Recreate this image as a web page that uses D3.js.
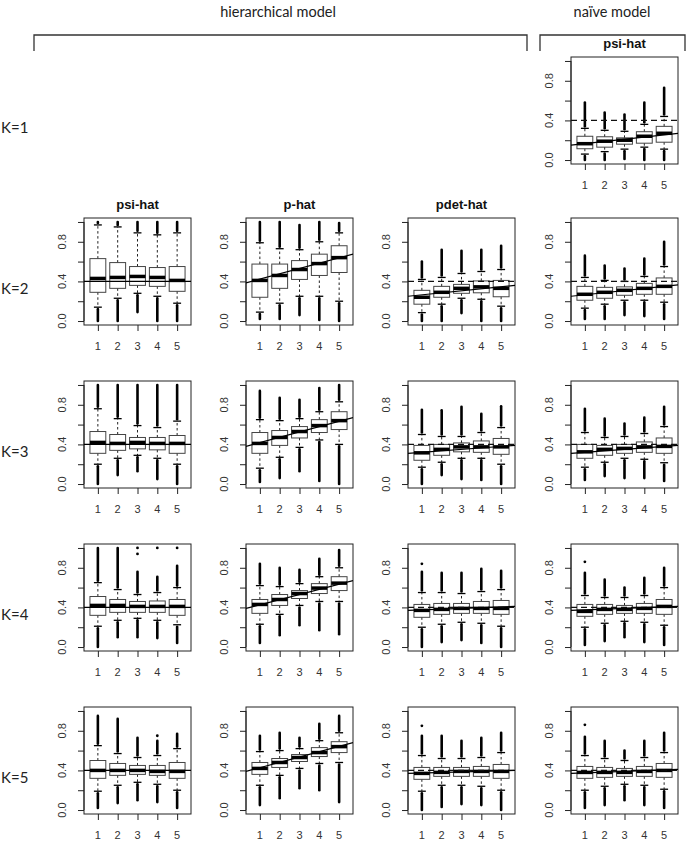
<!DOCTYPE html>
<html><head><meta charset="utf-8">
<script src="https://cdn.jsdelivr.net/npm/d3@7"></script>
<style>body{margin:0;background:#fff} svg{display:block}</style>
</head><body><svg id="c" width="689" height="842"></svg>
<script>
// ---------- data ----------
const groups = [1, 2, 3, 4, 5];
const rowLabels = ["K=1", "K=2", "K=3", "K=4", "K=5"];
const columnTitles = ["psi-hat", "p-hat", "pdet-hat", "psi-hat"];
const modelLabels = ["hierarchical model", "naïve model"];
const yTicks = [0, 0.2, 0.4, 0.6, 0.8, 1.0];
const yTickLabels = [0, 0.4, 0.8];

// panel order: K1 naive; then for K=2..5: psi, p, pdet, naive
const panelRow = [0, 1,1,1,1, 2,2,2,2, 3,3,3,3, 4,4,4,4];
const panelCol = [3, 0,1,2,3, 0,1,2,3, 0,1,2,3, 0,1,2,3];

const lowOut = [
  [0.0,0.0,0.01,0.0,0.0],
  [0.0,0.0,0.09,0.0,0.0],[0.02,0.02,0.06,0.01,0.0],[0.0,0.0,0.08,0.0,0.0],[0.02,0.02,0.06,0.05,0.02],
  [0.0,0.09,0.13,0.05,0.0],[0.02,0.06,0.13,0.03,0.0],[0.0,0.09,0.05,0.04,0.0],[0.04,0.08,0.06,0.06,0.03],
  [0.0,0.10,0.10,0.09,0.04],[0.04,0.12,0.22,0.17,0.13],[0.0,0.05,0.07,0.04,0.0],[0.02,0.06,0.10,0.05,0.02],
  [0.02,0.07,0.10,0.08,0.02],[0.05,0.12,0.22,0.20,0.08],[0.0,0.03,0.06,0.05,0.0],[0.02,0.05,0.10,0.05,0.02]
];
const lowWhisker = [
  [0.06,0.085,0.11,0.13,0.11],
  [0.14,0.23,0.28,0.25,0.18],[0.09,0.18,0.25,0.25,0.20],[0.085,0.17,0.23,0.22,0.15],[0.13,0.17,0.21,0.21,0.19],
  [0.20,0.26,0.29,0.26,0.20],[0.16,0.27,0.37,0.445,0.40],[0.17,0.22,0.26,0.26,0.20],[0.17,0.22,0.26,0.25,0.215],
  [0.21,0.27,0.29,0.27,0.225],[0.23,0.33,0.42,0.46,0.46],[0.20,0.23,0.25,0.24,0.21],[0.20,0.24,0.26,0.25,0.22],
  [0.19,0.25,0.28,0.26,0.20],[0.25,0.35,0.42,0.47,0.48],[0.19,0.25,0.25,0.24,0.20],[0.20,0.24,0.26,0.25,0.21]
];
const q1 = [
  [0.114,0.13,0.16,0.17,0.18],
  [0.29,0.33,0.36,0.35,0.30],[0.24,0.33,0.42,0.46,0.49],[0.17,0.24,0.28,0.285,0.245],[0.21,0.23,0.26,0.27,0.27],
  [0.31,0.34,0.355,0.345,0.31],[0.31,0.39,0.465,0.52,0.55],[0.24,0.29,0.325,0.32,0.30],[0.26,0.29,0.31,0.32,0.31],
  [0.32,0.35,0.35,0.35,0.32],[0.34,0.42,0.49,0.54,0.57],[0.30,0.33,0.34,0.34,0.33],[0.31,0.33,0.34,0.34,0.33],
  [0.32,0.35,0.36,0.35,0.32],[0.36,0.43,0.49,0.54,0.58],[0.31,0.34,0.34,0.34,0.32],[0.32,0.33,0.34,0.34,0.33]
];
const median = [
  [0.165,0.19,0.20,0.24,0.27],
  [0.43,0.44,0.45,0.44,0.41],[0.41,0.46,0.52,0.58,0.64],[0.24,0.29,0.33,0.345,0.33],[0.27,0.29,0.31,0.33,0.35],
  [0.42,0.41,0.42,0.41,0.41],[0.41,0.47,0.53,0.59,0.64],[0.315,0.35,0.375,0.375,0.375],[0.325,0.35,0.36,0.375,0.38],
  [0.42,0.42,0.41,0.41,0.41],[0.43,0.48,0.54,0.595,0.645],[0.37,0.38,0.39,0.39,0.39],[0.36,0.38,0.38,0.39,0.41],
  [0.40,0.40,0.40,0.39,0.39],[0.42,0.48,0.53,0.58,0.64],[0.37,0.38,0.39,0.39,0.39],[0.38,0.38,0.38,0.39,0.40]
];
const q3 = [
  [0.24,0.235,0.224,0.286,0.34],
  [0.63,0.59,0.55,0.54,0.55],[0.575,0.575,0.61,0.675,0.76],[0.31,0.35,0.37,0.405,0.41],[0.35,0.34,0.345,0.38,0.435],
  [0.53,0.50,0.47,0.47,0.49],[0.52,0.54,0.58,0.65,0.73],[0.39,0.40,0.415,0.435,0.46],[0.40,0.39,0.40,0.425,0.465],
  [0.51,0.48,0.46,0.465,0.48],[0.48,0.53,0.57,0.64,0.71],[0.43,0.44,0.44,0.46,0.47],[0.43,0.43,0.42,0.44,0.48],
  [0.50,0.47,0.45,0.45,0.48],[0.48,0.52,0.56,0.63,0.69],[0.43,0.43,0.43,0.44,0.46],[0.44,0.43,0.42,0.44,0.47]
];
const highWhisker = [
  [0.32,0.30,0.29,0.36,0.44],
  [0.97,0.95,0.89,0.87,0.89],[0.79,0.73,0.72,0.80,0.89],[0.42,0.44,0.48,0.50,0.52],[0.44,0.41,0.40,0.45,0.55],
  [0.76,0.66,0.59,0.57,0.635],[0.65,0.64,0.66,0.73,0.83],[0.50,0.48,0.48,0.52,0.57],[0.52,0.47,0.48,0.51,0.58],
  [0.65,0.58,0.53,0.55,0.60],[0.62,0.61,0.64,0.71,0.80],[0.55,0.55,0.54,0.56,0.58],[0.52,0.50,0.50,0.52,0.60],
  [0.65,0.57,0.53,0.55,0.62],[0.59,0.60,0.62,0.70,0.78],[0.55,0.52,0.52,0.53,0.58],[0.55,0.52,0.50,0.53,0.58]
];
const highOut = [
  [0.58,0.48,0.46,0.58,0.73],
  [1.0,1.0,1.0,1.0,1.0],[1.0,1.0,0.97,1.0,0.99],[0.60,0.72,0.71,0.72,0.76],[0.66,0.56,0.53,0.63,0.80],
  [1.0,1.0,1.0,1.0,1.0],[0.94,0.87,0.85,0.97,1.0],[0.75,0.745,0.78,0.71,0.785],[0.76,0.66,0.61,0.67,0.78],
  [1.0,1.0,0.76,0.71,0.82],[0.84,0.80,0.78,0.89,0.98],[0.76,0.75,0.75,0.79,0.77],[0.75,0.68,0.60,0.70,0.80],
  [0.95,0.92,0.73,0.70,0.77],[0.75,0.78,0.73,0.87,0.95],[0.75,0.75,0.70,0.73,0.78],[0.74,0.70,0.60,0.70,0.78]
];
// isolated outliers: [panel, group, value]
const isolatedPoints = [
  [9,3,0.94],[9,3,1.0],[9,4,1.0],[9,5,1.0],[11,1,0.84],[12,1,0.86],[15,1,0.85],[16,1,0.86],[13,4,0.75]
];
// solid reference line value at left and right edge of each panel
const trendLeft  = [0.15, 0.4,0.385,0.25,0.25, 0.4,0.38,0.31,0.31, 0.4,0.39,0.37,0.37, 0.4,0.39,0.37,0.37];
const trendRight = [0.27, 0.4,0.675,0.36,0.365, 0.4,0.67,0.39,0.39, 0.4,0.67,0.41,0.41, 0.4,0.68,0.40,0.41];
const dashedRef  = [0.4, null,null,0.4,0.4, null,null,0.4,0.4, null,null,0.4,0.4, null,null,0.4,0.4];

// ---------- layout ----------
const colLeft = [84, 246, 408, 571];
const rowTop = [57, 218, 381, 544, 707];
const PW = 107, PH = 107;
const xDomain = [0.3, 5.7];
const yDomain = [-0.04, 1.04];

const svg = d3.select("#c");
const sansR = "'Liberation Sans', Arial, sans-serif";
const labelFont = "Lato, 'Open Sans', sans-serif";

// top model labels + brackets
svg.append("text").attr("x", 278).attr("y", 17).attr("text-anchor","middle")
  .attr("font-family", labelFont).attr("font-size", 14.5).attr("fill","#222").text(modelLabels[0]);
svg.append("text").attr("x", 612).attr("y", 17).attr("text-anchor","middle")
  .attr("font-family", labelFont).attr("font-size", 14.5).attr("fill","#222").text(modelLabels[1]);
svg.append("path").attr("d","M34,51V35H527V51").attr("fill","none").attr("stroke","#333").attr("stroke-width",1.3);
svg.append("path").attr("d","M540,51V35H685V51").attr("fill","none").attr("stroke","#333").attr("stroke-width",1.3);

// row labels
rowLabels.forEach((t,i)=>{
  svg.append("text").attr("x", 1).attr("y", rowTop[i] + 76).attr("font-family", labelFont)
    .attr("font-size", 15).attr("fill","#222").text(t);
});

const titled = new Set();
panelRow.forEach((r, p) => {
  const c = panelCol[p];
  const L = colLeft[c], T = rowTop[r];
  const x = d3.scaleLinear().domain(xDomain).range([L, L + PW]);
  const y = d3.scaleLinear().domain(yDomain).range([T + PH, T]);
  const g = svg.append("g");
  const clipId = "clip" + p;
  g.append("clipPath").attr("id", clipId).append("rect").attr("x", L).attr("y", T).attr("width", PW).attr("height", PH);

  // title
  if (!titled.has(c)) {
    titled.add(c);
    g.append("text").attr("x", L + PW/2).attr("y", T - 9).attr("text-anchor","middle")
      .attr("font-family", sansR).attr("font-weight","bold").attr("font-size", 13).attr("fill","#111").text(columnTitles[c]);
  }

  // y axis
  const ya = g.append("g").attr("transform", `translate(${L},0)`)
    .call(d3.axisLeft(y).tickValues(yTicks).tickSize(6).tickSizeOuter(0).tickFormat(""));
  ya.select(".domain").remove();
  ya.selectAll(".tick line").attr("stroke","#222");
  g.append("line").attr("x1", L).attr("x2", L).attr("y1", y(0)).attr("y2", y(1)).attr("stroke","#222");
  yTickLabels.forEach(v=>{
    g.append("text").attr("transform", `translate(${L-18},${y(v)}) rotate(-90)`).attr("text-anchor","middle")
      .attr("font-family", sansR).attr("font-size", 11).attr("fill","#333").text(v.toFixed(1));
  });

  // x axis
  const xa = g.append("g").attr("transform", `translate(0,${T+PH})`)
    .call(d3.axisBottom(x).tickValues(groups).tickSize(6).tickSizeOuter(0).tickFormat(""));
  xa.select(".domain").remove();
  xa.selectAll(".tick line").attr("stroke","#222");
  groups.forEach(v=>{
    g.append("text").attr("x", x(v)).attr("y", T + PH + 25).attr("text-anchor","middle")
      .attr("font-family", sansR).attr("font-size", 11).attr("fill","#333").text(v);
  });

  // frame
  g.append("rect").attr("x", L).attr("y", T).attr("width", PW).attr("height", PH)
    .attr("fill","none").attr("stroke","#222").attr("stroke-width",1);

  // boxes
  groups.forEach((gv, i) => {
    const cx = x(gv);
    const hw = x(gv + 0.4) - cx, cap = x(gv + 0.2) - cx;
    // outlier stacks
    g.append("line").attr("x1", cx).attr("x2", cx).attr("y1", y(highWhisker[p][i]) - 2).attr("y2", y(highOut[p][i]))
      .attr("stroke","#000").attr("stroke-width", 2.6).attr("stroke-linecap","round");
    g.append("line").attr("x1", cx).attr("x2", cx).attr("y1", y(lowWhisker[p][i]) + 2).attr("y2", y(lowOut[p][i]))
      .attr("stroke","#000").attr("stroke-width", 2.6).attr("stroke-linecap","round");
    // whiskers
    g.append("line").attr("x1", cx).attr("x2", cx).attr("y1", y(q3[p][i])).attr("y2", y(highWhisker[p][i]))
      .attr("stroke","#222").attr("stroke-dasharray","2.5,2.5");
    g.append("line").attr("x1", cx).attr("x2", cx).attr("y1", y(q1[p][i])).attr("y2", y(lowWhisker[p][i]))
      .attr("stroke","#222").attr("stroke-dasharray","2.5,2.5");
    g.append("line").attr("x1", cx - cap).attr("x2", cx + cap).attr("y1", y(highWhisker[p][i])).attr("y2", y(highWhisker[p][i]))
      .attr("stroke","#000").attr("stroke-width",1.3);
    g.append("line").attr("x1", cx - cap).attr("x2", cx + cap).attr("y1", y(lowWhisker[p][i])).attr("y2", y(lowWhisker[p][i]))
      .attr("stroke","#000").attr("stroke-width",1.3);
    // box
    g.append("rect").attr("x", cx - hw).attr("y", y(q3[p][i])).attr("width", 2*hw)
      .attr("height", y(q1[p][i]) - y(q3[p][i])).attr("fill","none").attr("stroke","#444").attr("stroke-width",1);
    g.append("line").attr("x1", cx - hw).attr("x2", cx + hw).attr("y1", y(median[p][i])).attr("y2", y(median[p][i]))
      .attr("stroke","#000").attr("stroke-width",3.5);
  });
  isolatedPoints.filter(d => d[0] === p).forEach(d => {
    g.append("circle").attr("cx", x(d[1])).attr("cy", y(d[2])).attr("r", 1.4).attr("fill","#000");
  });

  // reference lines
  const lg = g.append("g").attr("clip-path", `url(#${clipId})`);
  if (dashedRef[p] !== null) {
    lg.append("line").attr("x1", L).attr("x2", L + PW).attr("y1", y(dashedRef[p])).attr("y2", y(dashedRef[p]))
      .attr("stroke","#111").attr("stroke-width",1.1).attr("stroke-dasharray","6,4");
  }
  lg.append("line").attr("x1", x(xDomain[0])).attr("x2", x(xDomain[1]))
    .attr("y1", y(trendLeft[p])).attr("y2", y(trendRight[p]))
    .attr("stroke","#000").attr("stroke-width",1.2);
});
</script></body></html>
